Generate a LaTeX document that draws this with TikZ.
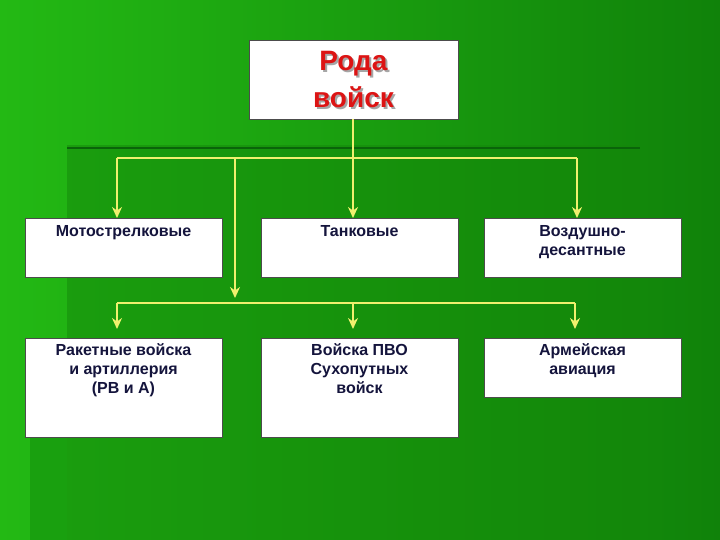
\documentclass[tikz,border=0pt]{standalone}
\usepackage{fontspec}
\setmainfont{Liberation Sans}
\usetikzlibrary{arrows.meta}
\definecolor{gl}{RGB}{35,185,20}
\definecolor{gr}{RGB}{16,130,10}
\definecolor{gm}{RGB}{20,135,10}
\definecolor{gs}{RGB}{25,160,15}
\definecolor{gd}{RGB}{10,100,10}
\definecolor{yl}{RGB}{240,240,110}
\definecolor{rd}{RGB}{220,20,20}
\definecolor{nv}{RGB}{20,20,60}
\begin{document}
\begin{tikzpicture}[x=1pt,y=-1pt,
  box/.style={draw=black!70,fill=white,line width=0.6pt},
  lbl/.style={font=\bfseries\fontsize{16}{19}\selectfont,text=nv,align=center},
  ln/.style={draw=yl,line width=2.2pt},
  arr/.style={ln,-{Stealth[length=11pt,width=10pt]}}]
\useasboundingbox (0,0) rectangle (720,540);
\shade[left color=gl,right color=gr] (0,0) rectangle (720,540);
\fill[gm,opacity=0.5] (67,145) rectangle (640,540);
\fill[gs] (30,360) rectangle (67,540);
\draw[gd,line width=2pt] (67,148)--(640,148);
\draw[box] (249,40) rectangle (458,119);
\node (ts) at (355.5,81.5) [font=\bfseries\fontsize{28}{37}\selectfont,text=black!35,align=center] {Рода\\войск};
\node (t) at (353.5,79.5) [font=\bfseries\fontsize{28}{37}\selectfont,text=rd,align=center] {Рода\\войск};
\draw[box] (25,218) rectangle (222,277);
\draw[box] (261,218) rectangle (458,277);
\draw[box] (484,218) rectangle (681,277);
\draw[box] (25,338) rectangle (222,437);
\draw[box] (261,338) rectangle (458,437);
\draw[box] (484,338) rectangle (681,397);
\node[lbl,anchor=north] (a) at (123.5,222) {Мотострелковые};
\node[lbl,anchor=north] (b) at (359.5,222) {Танковые};
\node[lbl,anchor=north] (c) at (582.5,222) {Воздушно-\\десантные};
\node[lbl,anchor=north] (d) at (123.5,340) {Ракетные войска\\и артиллерия\\(РВ и А)};
\node[lbl,anchor=north] (e) at (359.5,340) {Войска ПВО\\Сухопутных\\войск};
\node[lbl,anchor=north] (f) at (582.5,340) {Армейская\\авиация};
\coordinate (h1l) at (117,158); \coordinate (h1r) at (577,158);
\draw[ln] (h1l)--(h1r);
\draw[arr] (353,119)--(353,218);
\draw[arr] (h1l)--(117,218);
\draw[arr] (h1r)--(577,218);
\draw[arr] (235,158)--(235,298);
\coordinate (h2l) at (117,303); \coordinate (h2r) at (575,303);
\draw[ln] (h2l)--(h2r);
\draw[arr] (h2l)--(117,329);
\draw[arr] (353,303)--(353,329);
\draw[arr] (h2r)--(575,329);
\end{tikzpicture}
\end{document}
